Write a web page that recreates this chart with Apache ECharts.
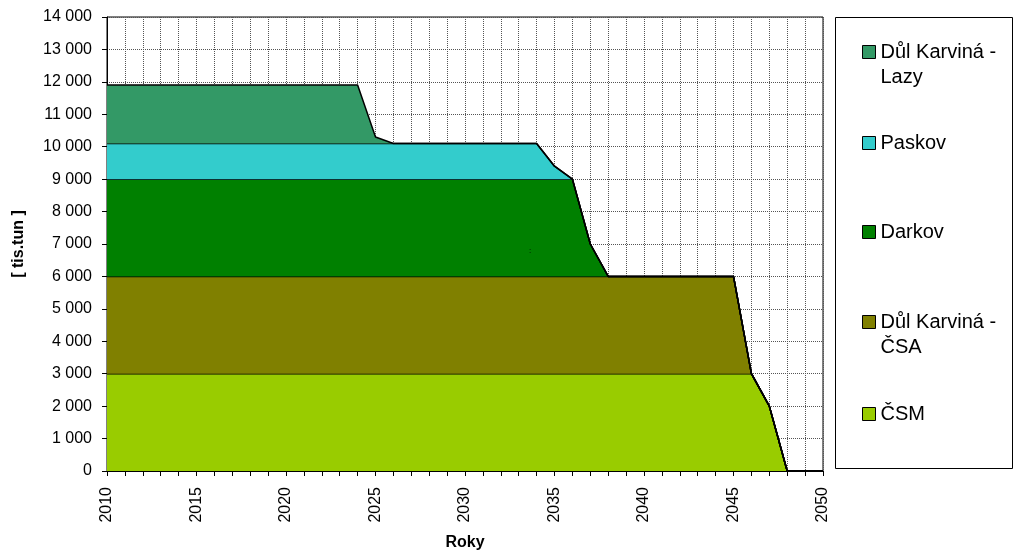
<!DOCTYPE html>
<html>
<head>
<meta charset="utf-8">
<script src="https://cdn.jsdelivr.net/npm/echarts@6/dist/echarts.min.js"></script>
<style>
html,body{margin:0;padding:0;background:#fff;}
#chart{width:1014px;height:553px;}
</style>
</head>
<body>
<div id="chart"></div>
<script>
// Categories: years 2010..2050
const years = ['2010','2011','2012','2013','2014','2015','2016','2017','2018','2019',
  '2020','2021','2022','2023','2024','2025','2026','2027','2028','2029',
  '2030','2031','2032','2033','2034','2035','2036','2037','2038','2039',
  '2040','2041','2042','2043','2044','2045','2046','2047','2048','2049','2050'];

// Series values (tis. tun), stacked bottom to top
const csm = [3000,3000,3000,3000,3000,3000,3000,3000,3000,3000,
  3000,3000,3000,3000,3000,3000,3000,3000,3000,3000,
  3000,3000,3000,3000,3000,3000,3000,3000,3000,3000,
  3000,3000,3000,3000,3000,3000,3000,2000,0,0,0];
const karvinaCsa = [3000,3000,3000,3000,3000,3000,3000,3000,3000,3000,
  3000,3000,3000,3000,3000,3000,3000,3000,3000,3000,
  3000,3000,3000,3000,3000,3000,3000,3000,3000,3000,
  3000,3000,3000,3000,3000,3000,0,0,0,0,0];
const darkov = [3000,3000,3000,3000,3000,3000,3000,3000,3000,3000,
  3000,3000,3000,3000,3000,3000,3000,3000,3000,3000,
  3000,3000,3000,3000,3000,3000,3000,1000,0,0,
  0,0,0,0,0,0,0,0,0,0,0];
const paskov = [1100,1100,1100,1100,1100,1100,1100,1100,1100,1100,
  1100,1100,1100,1100,1100,1100,1100,1100,1100,1100,
  1100,1100,1100,1100,1100,400,0,0,0,0,
  0,0,0,0,0,0,0,0,0,0,0];
const karvinaLazy = [1800,1800,1800,1800,1800,1800,1800,1800,1800,1800,
  1800,1800,1800,1800,1800,200,0,0,0,0,
  0,0,0,0,0,0,0,0,0,0,
  0,0,0,0,0,0,0,0,0,0,0];

const seriesNames = ['ČSM','Důl Karviná - ČSA','Darkov','Paskov','Důl Karviná - Lazy'];
const seriesData = [csm, karvinaCsa, darkov, paskov, karvinaLazy];
const seriesColors = ['#99CC00','#808000','#008000','#33CCCC','#339966'];

// Legend order (top to bottom) and centres of first text line
const legendOrder = ['Důl Karviná - Lazy','Paskov','Darkov','Důl Karviná - ČSA','ČSM'];
const legendCenters = [52, 143, 232, 322, 414];

const FONT = 'Liberation Sans, Arial, sans-serif';
const LH = 25;

const chart = echarts.init(document.getElementById('chart'), null, {renderer:'canvas'});

const series = seriesNames.map((n, i) => ({
  name: n,
  type: 'line',
  stack: 'total',
  data: seriesData[i],
  symbol: 'none',
  showSymbol: false,
  itemStyle: {color: seriesColors[i]},
  lineStyle: {color: '#000', width: 1.5},
  areaStyle: {color: seriesColors[i], opacity: 1},
  emphasis: {disabled: true},
  z: 2 + i
}));

const legends = legendOrder.map((n, i) => {
  const multi = n.indexOf(' - ') >= 0;
  return {
    orient: 'vertical',
    left: 862,
    top: legendCenters[i] - 12.5,
    padding: 0,
    icon: multi ? 'path://M0,0h13v13h-13zM0,38' : 'rect',
    itemWidth: 13,
    itemHeight: multi ? 38 : 13,
    itemGap: 0,
    selectedMode: false,
    itemStyle: {borderColor: '#000', borderWidth: 1},
    data: [{name: n, itemStyle: {color: seriesColors[seriesNames.indexOf(n)], borderColor:'#000', borderWidth:1}}],
    formatter: (name) => name.replace(' - ', ' -\n'),
    textStyle: {fontFamily: FONT, fontSize: 20, color: '#000', lineHeight: LH}
  };
});

const option = {
  animation: false,
  backgroundColor: '#fff',
  grid: {
    left: 107, right: 191, top: 17, bottom: 82,
    show: true, borderColor: '#000', borderWidth: 1,
    outerBoundsMode: 'none'
  },
  legend: legends,
  xAxis: {
    type: 'category',
    data: years,
    boundaryGap: false,
    name: 'Roky',
    nameLocation: 'middle',
    nameGap: 64,
    nameTextStyle: {fontFamily: FONT, fontSize: 16, fontWeight: 'bold', color: '#000'},
    axisLine: {lineStyle: {color: '#000', width: 1}},
    axisTick: {show: true, interval: 0, length: 5, lineStyle: {color: '#000'}},
    axisLabel: {interval: 4, rotate: 90, margin: 16, fontFamily: FONT, fontSize: 16, color: '#000'},
    splitLine: {show: true, interval: 0, lineStyle: {color: '#555', type: 'dotted', width: 1}}
  },
  yAxis: {
    type: 'value',
    min: 0, max: 14000, interval: 1000,
    name: '[ tis.tun ]',
    nameLocation: 'middle',
    nameGap: 80,
    nameTextStyle: {fontFamily: FONT, fontSize: 16, fontWeight: 'bold', color: '#000'},
    axisLine: {show: true, lineStyle: {color: '#000', width: 1}},
    axisTick: {show: true, length: 5, lineStyle: {color: '#000'}},
    axisLabel: {
      margin: 15, fontFamily: FONT, fontSize: 16, color: '#000',
      formatter: v => String(v).replace(/\B(?=(\d{3})+(?!\d))/g, ' ')
    },
    splitLine: {show: true, lineStyle: {color: '#555', type: 'dotted', width: 1}}
  },
  graphic: [
    {type: 'rect', left: 835, top: 17, z: -1,
     shape: {width: 177, height: 451},
     style: {fill: '#fff', stroke: '#000', lineWidth: 1}},
    {type: 'text', left: 529, top: 247, z: 10,
     style: {text: ':', fontSize: 8, fill: '#000', fontFamily: FONT}}
  ],
  series: series
};

chart.setOption(option);
</script>
</body>
</html>
